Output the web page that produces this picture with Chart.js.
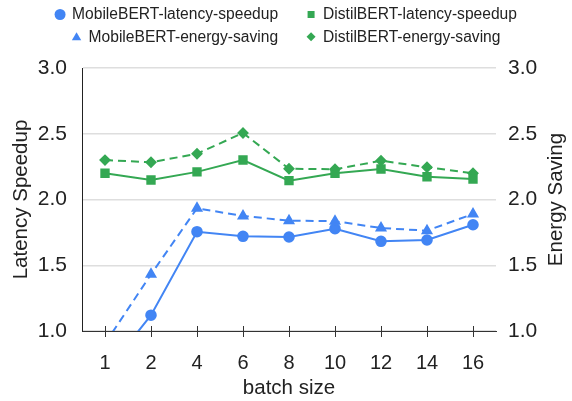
<!DOCTYPE html>
<html lang="en">
<head>
    <meta charset="UTF-8">
    <title>MobileBERT vs DistilBERT</title>
    <script src="https://cdn.jsdelivr.net/npm/chart.js"></script>
    <style>
        html, body { margin: 0; padding: 0; background: #fff; }
        #wrap { width: 572px; height: 401px; }
    </style>
</head>
<body>
    <div id="wrap"><canvas id="chart" width="572" height="401"></canvas></div>

    <script>
        const batchSizes = ['1', '2', '4', '6', '8', '10', '12', '14', '16'];
        const mobileLatency = [0.68, 1.12, 1.755, 1.72, 1.715, 1.778, 1.682, 1.692, 1.808];
        const distilLatency = [2.20, 2.148, 2.21, 2.30, 2.143, 2.20, 2.232, 2.173, 2.156];
        const mobileEnergy = [0.905, 1.431, 1.933, 1.875, 1.839, 1.835, 1.783, 1.763, 1.89];
        const distilEnergy = [2.30, 2.283, 2.348, 2.506, 2.234, 2.23, 2.295, 2.245, 2.20];
        const yTicks = [1.0, 1.5, 2.0, 2.5, 3.0];

        const BLUE = '#4285f4';
        const GREEN = '#34a853';
        const FONT = "'Liberation Sans', Arial, sans-serif";
        const TEXT = '#222';

        // small marker shapes for the legend
        function marker(ctx, style, x, y) {
            ctx.beginPath();
            if (style === 'circle') {
                ctx.arc(x, y, 5.5, 0, Math.PI * 2);
            } else if (style === 'rect') {
                ctx.rect(x - 3.5, y - 3.5, 7, 7);
            } else if (style === 'triangle') {
                ctx.moveTo(x, y - 4.5);
                ctx.lineTo(x + 4.7, y + 3.5);
                ctx.lineTo(x - 4.7, y + 3.5);
                ctx.closePath();
            } else {
                ctx.moveTo(x, y - 4.5);
                ctx.lineTo(x + 4.5, y);
                ctx.lineTo(x, y + 4.5);
                ctx.lineTo(x - 4.5, y);
                ctx.closePath();
            }
            ctx.fill();
        }

        // two-row legend, each row centred, plus the right axis title read bottom-up
        const legendAndTitle = {
            id: 'legendAndTitle',
            afterDraw(chart) {
                const ctx = chart.ctx;
                const ds = chart.data.datasets;
                const rows = [[ds[0], ds[1]], [ds[2], ds[3]]];
                const rowY = [14.5, 36.7];
                ctx.save();
                ctx.font = '15.6px ' + FONT;
                ctx.textBaseline = 'middle';
                ctx.textAlign = 'left';
                rows.forEach((row, r) => {
                    const widths = row.map(d => 17 + ctx.measureText(d.label).width);
                    const total = widths[0] + 28 + widths[1];
                    let x = chart.width / 2 - total / 2;
                    row.forEach((d, i) => {
                        ctx.fillStyle = d.borderColor;
                        marker(ctx, d.pointStyle, x + 5, rowY[r]);
                        ctx.fillStyle = TEXT;
                        ctx.fillText(d.label, x + 17, rowY[r] + 0.5);
                        x += widths[i] + 28;
                    });
                });

                ctx.font = '20.5px ' + FONT;
                ctx.textAlign = 'center';
                ctx.translate(556, (chart.chartArea.top + chart.chartArea.bottom) / 2);
                ctx.rotate(-Math.PI / 2);
                ctx.fillText('Energy Saving', 0, 0);
                ctx.restore();

                // x-axis tick marks crossing the axis line
                const xs = chart.scales.x;
                const yb = chart.chartArea.bottom;
                ctx.save();
                ctx.strokeStyle = '#333';
                ctx.lineWidth = 1;
                xs.ticks.forEach((t, i) => {
                    const px = Math.round(xs.getPixelForTick(i)) + 0.5;
                    ctx.beginPath();
                    ctx.moveTo(px, yb - 5);
                    ctx.lineTo(px, yb + 6);
                    ctx.stroke();
                });
                ctx.restore();
            }
        };

        const yScale = (pos) => ({
            type: 'linear',
            position: pos,
            min: 1,
            max: 3,
            afterBuildTicks: (axis) => { axis.ticks = yTicks.map(v => ({ value: v })); },
            afterFit: (axis) => { axis.width = pos === 'left' ? 82 : 76; },
            ticks: {
                padding: pos === 'left' ? 15 : 12,
                color: TEXT,
                font: { family: FONT, size: 21 },
                callback: v => v.toFixed(1)
            },
            grid: {
                display: pos === 'left',
                color: '#dedede',
                lineWidth: 1.5,
                drawTicks: false
            },
            border: { display: pos === 'left', color: '#222', width: 1 },
            title: {
                display: pos === 'left',
                text: 'Latency Speedup',
                color: TEXT,
                font: { family: FONT, size: 20.5 },
                padding: { top: 9, bottom: 0 }
            }
        });

        new Chart(document.getElementById('chart'), {
            type: 'line',
            data: {
                labels: batchSizes,
                datasets: [
                    {
                        label: 'MobileBERT-latency-speedup',
                        data: mobileLatency,
                        yAxisID: 'y',
                        borderColor: BLUE,
                        backgroundColor: BLUE,
                        pointStyle: 'circle',
                        pointRadius: 4.8,
                        borderWidth: 2,
                        clip: 0
                    },
                    {
                        label: 'DistilBERT-latency-speedup',
                        data: distilLatency,
                        yAxisID: 'y',
                        borderColor: GREEN,
                        backgroundColor: GREEN,
                        pointStyle: 'rect',
                        pointRadius: 5.2,
                        borderWidth: 2,
                        clip: 0
                    },
                    {
                        label: 'MobileBERT-energy-saving',
                        data: mobileEnergy,
                        yAxisID: 'y1',
                        borderColor: BLUE,
                        backgroundColor: BLUE,
                        borderDash: [8, 5],
                        pointStyle: 'triangle',
                        pointRadius: 5,
                        borderWidth: 2,
                        clip: 0
                    },
                    {
                        label: 'DistilBERT-energy-saving',
                        data: distilEnergy,
                        yAxisID: 'y1',
                        borderColor: GREEN,
                        backgroundColor: GREEN,
                        borderDash: [8, 5],
                        pointStyle: 'rectRot',
                        pointRadius: 4.5,
                        borderWidth: 2,
                        clip: 0
                    }
                ]
            },
            options: {
                responsive: false,
                animation: false,
                layout: { padding: { top: 68, bottom: 0, left: 0, right: 0 } },
                elements: { line: { tension: 0 }, point: { borderWidth: 0 } },
                plugins: {
                    legend: { display: false },
                    tooltip: { enabled: false }
                },
                scales: {
                    x: {
                        offset: true,
                        afterFit: (axis) => { axis.height = 70; },
                        ticks: {
                            padding: 20,
                            color: TEXT,
                            font: { family: FONT, size: 20 }
                        },
                        grid: { display: false, drawTicks: false },
                        border: { display: true, color: '#333', width: 1 },
                        title: {
                            display: true,
                            text: 'batch size',
                            color: TEXT,
                            font: { family: FONT, size: 20.5 },
                            padding: { top: 0, bottom: 0 }
                        }
                    },
                    y: yScale('left'),
                    y1: yScale('right')
                }
            },
            plugins: [legendAndTitle]
        });
    </script>
</body>
</html>
